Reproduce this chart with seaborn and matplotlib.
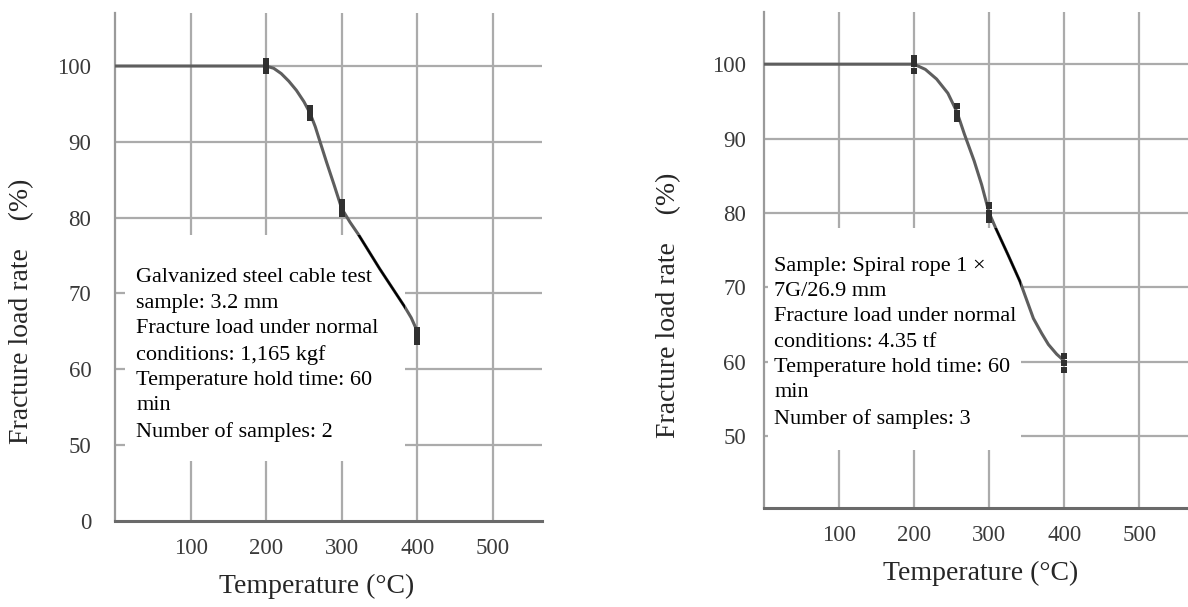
import numpy as np
import pandas as pd
import matplotlib
matplotlib.use("Agg")
import matplotlib.pyplot as plt
from matplotlib.patches import Rectangle
import seaborn as sns

# --- Data ---
# Left: galvanized steel cable 3.2 mm
left_curve_t = [0, 200, 210, 220, 230, 240, 250, 258, 265, 272, 280, 290, 300,
                311, 322, 350, 383, 392, 401]
left_curve_r = [100.0, 100.0, 99.7, 99.0, 98.0, 96.8, 95.3, 93.8, 92.0, 89.8, 87.3,
                84.3, 81.2, 79.4, 77.8, 73.3, 68.3, 66.8, 64.8]
left_pts_t = [200, 200, 200, 258, 258, 258, 300, 300, 300, 400, 400, 400]
left_pts_r = [100.7, 100.0, 99.3, 94.5, 93.8, 93.1, 82.0, 81.2, 80.5, 65.2, 64.4, 63.6]
left_note = ("Galvanized steel cable test\nsample: 3.2 mm\nFracture load under normal\n"
             "conditions: 1,165 kgf\nTemperature hold time: 60\nmin\nNumber of samples: 2")

# Right: spiral rope 1 x 7G/26.9 mm
right_curve_t = [0, 200, 215, 230, 245, 257, 267, 280, 290, 300, 309, 325, 341,
                 359, 370, 379, 390, 401]
right_curve_r = [100.0, 100.0, 99.3, 98.0, 96.1, 93.6, 90.6, 87.0, 83.8, 80.0, 77.9,
                 74.4, 70.8, 65.8, 63.8, 62.3, 61.0, 60.0]
right_pts_t = [200, 200, 200, 257, 257, 257, 300, 300, 300, 400, 400, 400]
right_pts_r = [100.8, 100.0, 99.1, 94.4, 93.4, 92.6, 81.0, 80.0, 79.1, 60.7, 59.8, 58.9]
right_note = ("Sample: Spiral rope 1 \u00d7\n7G/26.9 mm\nFracture load under normal\n"
              "conditions: 4.35 tf\nTemperature hold time: 60\nmin\nNumber of samples: 3")

x_ticks = [100, 200, 300, 400, 500]
left_y_ticks = [40, 50, 60, 70, 80, 90, 100]
left_y_labels = ["0", "50", "60", "70", "80", "90", "100"]
right_y_ticks = [50, 60, 70, 80, 90, 100]
right_y_labels = ["50", "60", "70", "80", "90", "100"]

sns.set_theme(style="white")
plt.rcParams["font.family"] = ["Liberation Serif", "DejaVu Serif"]

fig = plt.figure(figsize=(11.88, 6.07), dpi=100)
ax_l = fig.add_axes([0.0968, 0.1417, 0.3594, 0.837])
ax_r = fig.add_axes([0.6431, 0.163, 0.3569, 0.817])

grid_c = "#ababab"
line_c = "#5e5e5e"


def draw_panel(ax, ct, cr, pt, pr, note, yticks, ylabels, box, note_xy, ylab_xy, xlab_xy, ypad):
    ax.set_xlim(0, 565)
    ax.set_ylim(40.3, 107)

    # hand-drawn grid
    for xv in x_ticks:
        ax.axvline(xv, color=grid_c, lw=1.6, zorder=1)
    for yv in yticks:
        if yv > 40:
            ax.axhline(yv, color=grid_c, lw=1.6, zorder=1)

    # white patch that hides the grid behind the note
    rect = Rectangle((box[0], box[1]), box[2], box[3], transform=ax.transAxes,
                     facecolor="white", edgecolor="none", zorder=2)
    ax.add_patch(rect)

    df = pd.DataFrame({"t": ct, "r": cr})
    sns.lineplot(data=df, x="t", y="r", ax=ax, color=line_c, lw=2.2, sort=False, zorder=3)
    # segment crossing the note was re-inked in black
    sns.lineplot(data=df, x="t", y="r", ax=ax, color="black", lw=1.6, sort=False, zorder=4)
    ax.lines[-1].set_clip_path(rect)

    pts = pd.DataFrame({"t": pt, "r": pr})
    sns.scatterplot(data=pts, x="t", y="r", ax=ax, color="#303030", marker="s",
                    s=20, edgecolor="none", zorder=5)

    ax.text(note_xy[0], note_xy[1], note, transform=ax.transAxes, ha="left", va="top",
            fontsize=16, color="black", linespacing=1.45, zorder=6)

    ax.set_xticks(x_ticks)
    ax.set_xticklabels([str(v) for v in x_ticks])
    ax.set_yticks(yticks)
    ax.set_yticklabels(ylabels)
    ax.tick_params(axis="both", length=0, labelsize=16.5, labelcolor="#3a3a3a")
    ax.tick_params(axis="x", pad=12)
    ax.tick_params(axis="y", pad=ypad)

    ax.set_xlabel("Temperature (\u00b0C)", fontsize=20)
    ax.set_ylabel("Fracture load rate\u2003(%)", fontsize=20)
    ax.yaxis.set_label_coords(*ylab_xy)
    ax.xaxis.set_label_coords(*xlab_xy)

    for side in ["top", "right"]:
        ax.spines[side].set_visible(False)
    ax.spines["left"].set_color("#9a9a9a")
    ax.spines["left"].set_linewidth(1.6)
    ax.spines["bottom"].set_color("#6a6a6a")
    ax.spines["bottom"].set_linewidth(2.2)
    ax.set_facecolor("white")


draw_panel(ax_l, left_curve_t, left_curve_r, left_pts_t, left_pts_r, left_note,
           left_y_ticks, left_y_labels,
           box=(0.023, 0.118, 0.656, 0.445), note_xy=(0.050, 0.497),
           ylab_xy=(-0.19, 0.413), xlab_xy=(0.473, -0.105), ypad=17)
draw_panel(ax_r, right_curve_t, right_curve_r, right_pts_t, right_pts_r, right_note,
           right_y_ticks, right_y_labels,
           box=(0.010, 0.117, 0.596, 0.448), note_xy=(0.024, 0.507),
           ylab_xy=(-0.195, 0.409), xlab_xy=(0.512, -0.107), ypad=13)

fig.savefig("out.png", dpi=100)
